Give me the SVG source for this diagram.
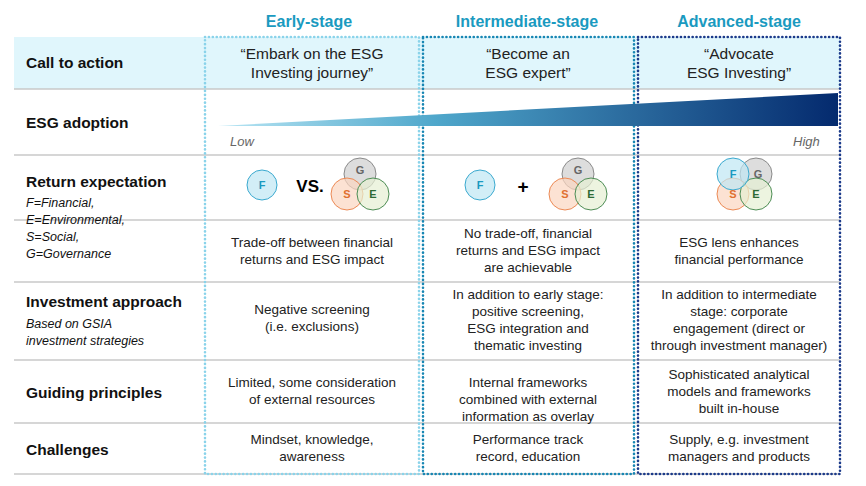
<svg xmlns="http://www.w3.org/2000/svg" width="866" height="486" viewBox="0 0 866 486">
<defs>
<style>
.h{font:bold 16px "Liberation Sans",Arial,sans-serif;fill:#1a9ac0;text-anchor:middle}
.rl{font:bold 15.5px "Liberation Sans",Arial,sans-serif;fill:#111}
.it{font:italic 12.5px "Liberation Sans",Arial,sans-serif;fill:#111}
.c{font:13.5px "Liberation Sans",Arial,sans-serif;fill:#222;text-anchor:middle}
.q{font:15.5px "Liberation Sans",Arial,sans-serif;fill:#222;text-anchor:middle}
.g{font:italic 13px "Liberation Sans",Arial,sans-serif;fill:#666}
.sep{stroke:#c8c8c8;stroke-width:1.5}
.cl{font:bold 11px "Liberation Sans",Arial,sans-serif;text-anchor:middle}
.F{fill:#bfe7f3;stroke:#3aa9cf;fill-opacity:.7}
.G{fill:#cfcfcf;stroke:#8a8a8a;fill-opacity:.7}
.S{fill:#fbd6c0;stroke:#ec8a55;fill-opacity:.7}
.E{fill:#e6efd3;stroke:#4d8d55;fill-opacity:.7}
</style>
<linearGradient id="gr" x1="0" x2="1" y1="0" y2="0">
<stop offset="0" stop-color="#b9e6f4"/><stop offset="0.35" stop-color="#4fa7cb"/><stop offset="1" stop-color="#042a6e"/>
</linearGradient>
</defs>
<rect x="14" y="37" width="826" height="52" fill="#e0f6fc"/>
<g id="lines">
<line class="sep" x1="14" y1="89" x2="840" y2="89"/>
<line class="sep" x1="14" y1="155" x2="840" y2="155"/>
<line class="sep" x1="14" y1="220" x2="840" y2="220"/>
<line class="sep" x1="14" y1="282" x2="840" y2="282"/>
<line class="sep" x1="14" y1="360" x2="840" y2="360"/>
<line class="sep" x1="14" y1="423" x2="840" y2="423"/>
<line class="sep" x1="14" y1="474" x2="840" y2="474"/>
</g>
<g id="boxes" fill="none" stroke-width="2.6" stroke-dasharray="0.1 3.8" stroke-linecap="round">
<rect x="205" y="37" width="214" height="437" stroke="#8ad3ea"/>
<rect x="423" y="37" width="211" height="437" stroke="#1786b3"/>
<rect x="638" y="37" width="202" height="437" stroke="#1b3a8a"/>
</g>
<text class="h" x="309" y="27">Early-stage</text>
<text class="h" x="527" y="27">Intermediate-stage</text>
<text class="h" x="739" y="27">Advanced-stage</text>
<g id="rowlabels">
<text class="rl" x="26" y="68">Call to action</text>
<text class="rl" x="26" y="128">ESG adoption</text>
<text class="rl" x="26" y="187">Return expectation</text>
<text class="it" x="26" y="207">F=Financial,</text>
<text class="it" x="26" y="224">E=Environmental,</text>
<text class="it" x="26" y="241">S=Social,</text>
<text class="it" x="26" y="258">G=Governance</text>
<text class="rl" x="26" y="307">Investment approach</text>
<text class="it" x="26" y="328">Based on GSIA</text>
<text class="it" x="26" y="345">investment strategies</text>
<text class="rl" x="26" y="398">Guiding principles</text>
<text class="rl" x="26" y="455">Challenges</text>
</g>
<g id="cta">
<text class="q" x="312" y="59">“Embark on the ESG</text><text class="q" x="312" y="78">Investing journey”</text>
<text class="q" x="528" y="59">“Become an</text><text class="q" x="528" y="78">ESG expert”</text>
<text class="q" x="739" y="59">“Advocate</text><text class="q" x="739" y="78">ESG Investing”</text>
</g>
<g id="adoption">
<polygon points="218,126 838,93 838,126" fill="url(#gr)"/>
<text class="g" x="230" y="146">Low</text>
<text class="g" x="793" y="146">High</text>
</g>
<g id="venn-early">
<circle class="F" cx="262" cy="185" r="15"/><text class="cl" x="262" y="189" fill="#1a9ac0">F</text>
<text x="310" y="192" font-family="Liberation Sans,Arial,sans-serif" font-weight="bold" font-size="17" text-anchor="middle">VS.</text>
<circle class="G" cx="360" cy="174" r="16"/><circle class="S" cx="347" cy="194" r="16"/><circle class="E" cx="373" cy="194" r="16"/>
<text class="cl" x="360" y="174" fill="#666">G</text><text class="cl" x="347" y="198" fill="#e0702f">S</text><text class="cl" x="373" y="198" fill="#2e6b35">E</text>
</g>
<g id="venn-int">
<circle class="F" cx="480" cy="185" r="15"/><text class="cl" x="480" y="189" fill="#1a9ac0">F</text>
<text x="523" y="193" font-family="Liberation Sans,Arial,sans-serif" font-weight="bold" font-size="19" text-anchor="middle">+</text>
<circle class="G" cx="578" cy="174" r="16"/><circle class="S" cx="565" cy="194" r="16"/><circle class="E" cx="591" cy="194" r="16"/>
<text class="cl" x="578" y="174" fill="#666">G</text><text class="cl" x="565" y="198" fill="#e0702f">S</text><text class="cl" x="591" y="198" fill="#2e6b35">E</text>
</g>
<g id="venn-adv">
<circle class="G" cx="756" cy="174" r="16"/><circle class="S" cx="733" cy="194" r="16"/><circle class="E" cx="756" cy="194" r="16"/><circle class="F" cx="733" cy="174" r="16"/>
<text class="cl" x="733" y="178" fill="#1a9ac0">F</text><text class="cl" x="758" y="178" fill="#666">G</text><text class="cl" x="733" y="198" fill="#e0702f">S</text><text class="cl" x="756" y="198" fill="#2e6b35">E</text>
</g>
<g id="cells">
<text class="c" x="312" y="247">Trade-off between financial</text><text class="c" x="312" y="264">returns and ESG impact</text>
<text class="c" x="528" y="238">No trade-off, financial</text><text class="c" x="528" y="255">returns and ESG impact</text><text class="c" x="528" y="272">are achievable</text>
<text class="c" x="739" y="247">ESG lens enhances</text><text class="c" x="739" y="264">financial performance</text>
<text class="c" x="312" y="314">Negative screening</text><text class="c" x="312" y="331">(i.e. exclusions)</text>
<text class="c" x="528" y="299">In addition to early stage:</text><text class="c" x="528" y="316">positive screening,</text><text class="c" x="528" y="333">ESG integration and</text><text class="c" x="528" y="350">thematic investing</text>
<text class="c" x="739" y="299">In addition to intermediate</text><text class="c" x="739" y="316">stage: corporate</text><text class="c" x="739" y="333">engagement (direct or</text><text class="c" x="739" y="350">through investment manager)</text>
<text class="c" x="312" y="387">Limited, some consideration</text><text class="c" x="312" y="404">of external resources</text>
<text class="c" x="528" y="387">Internal frameworks</text><text class="c" x="528" y="404">combined with external</text><text class="c" x="528" y="421">information as overlay</text>
<text class="c" x="739" y="379">Sophisticated analytical</text><text class="c" x="739" y="396">models and frameworks</text><text class="c" x="739" y="413">built in-house</text>
<text class="c" x="312" y="444">Mindset, knowledge,</text><text class="c" x="312" y="461">awareness</text>
<text class="c" x="528" y="444">Performance track</text><text class="c" x="528" y="461">record, education</text>
<text class="c" x="739" y="444">Supply, e.g. investment</text><text class="c" x="739" y="461">managers and products</text>
</g>
</svg>
